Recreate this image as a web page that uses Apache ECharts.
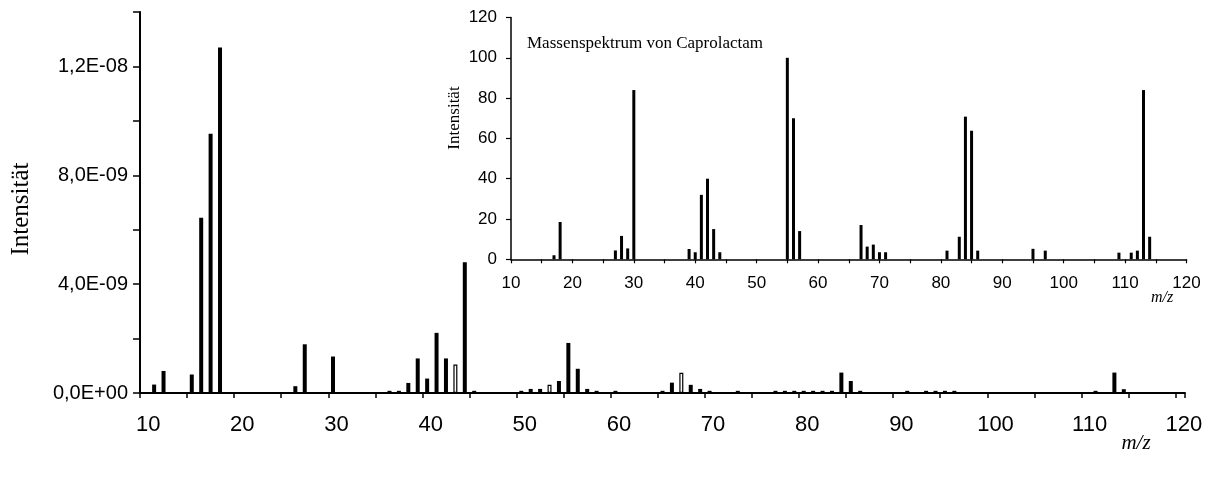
<!DOCTYPE html>
<html>
<head>
<meta charset="utf-8">
<script src="https://cdn.jsdelivr.net/npm/echarts@6/dist/echarts.min.js"></script>
<style>
  html, body { margin: 0; padding: 0; background: #fff; }
  #chart { width: 1215px; height: 478px; }
</style>
</head>
<body>
<div id="chart"></div>
<script>
// Gas-phase spectrum (absolute intensity) : m/z and intensity
const gasMz = [11, 12, 15, 16, 17, 18, 26, 27, 30, 36, 37, 38, 39, 40, 41, 42, 43, 44, 45,
  50, 51, 52, 53, 54, 55, 56, 57, 58, 60, 65, 66, 67, 68, 69, 70, 73, 77, 78, 79, 80, 81,
  82, 83, 84, 85, 86, 91, 93, 94, 95, 96, 111, 113, 114];
const gasIntensity = [3.1e-10, 8.1e-10, 6.8e-10, 6.44e-9, 9.53e-9, 1.27e-8, 2.5e-10, 1.79e-9,
  1.34e-9, 8e-11, 8e-11, 3.7e-10, 1.27e-9, 5.3e-10, 2.21e-9, 1.27e-9, 1.05e-9, 4.8e-9, 8e-11,
  8e-11, 1.5e-10, 1.5e-10, 3.0e-10, 4.4e-10, 1.84e-9, 8.9e-10, 1.5e-10, 8e-11, 8e-11,
  8e-11, 3.8e-10, 7.4e-10, 3.0e-10, 1.5e-10, 8e-11, 8e-11, 8e-11, 8e-11, 8e-11, 8e-11, 8e-11,
  8e-11, 8e-11, 7.5e-10, 4.4e-10, 8e-11, 8e-11, 8e-11, 8e-11, 8e-11, 8e-11, 8e-11, 7.5e-10, 1.4e-10];
// peaks drawn as outlined columns
const outlinedMz = [43, 53, 67];

// Reference spectrum of caprolactam (relative intensity, %)
const capMz = [17, 18, 27, 28, 29, 30, 39, 40, 41, 42, 43, 44, 55, 56, 57, 67, 68, 69, 70, 71,
  81, 83, 84, 85, 86, 95, 97, 109, 111, 112, 113, 114];
const capIntensity = [2, 18.5, 4.4, 11.6, 5.4, 84, 5.1, 3.5, 32, 40, 15, 3.5, 100, 70, 14,
  17, 6.3, 7.3, 3.5, 3.5, 4.3, 11.2, 70.8, 63.8, 4.3, 5.2, 4.3, 3.3, 3.3, 4.3, 84, 11.2];

// Axis labels
const mzFirst = 10, mzLast = 120;
const mainYLabels = ['0,0E+00', '4,0E-09', '8,0E-09', '1,2E-08'];
const yTitle = 'Intensität';
const xTitle = 'm/z';
const insetTitle = 'Massenspektrum von Caprolactam';

// category axis: one slot per integer m/z
const mzCategories = [];
for (let m = mzFirst; m <= mzLast; m++) mzCategories.push(String(m));

const gasData = mzCategories.map(() => '-');
gasMz.forEach((m, i) => {
  const v = gasIntensity[i];
  gasData[m - mzFirst] = outlinedMz.includes(m)
    ? { value: v, itemStyle: { color: '#fff', borderColor: '#000', borderWidth: 1.2 } }
    : v;
});
const capData = capMz.map((m, i) => [m, capIntensity[i]]);

const sans = 'Liberation Sans';
const serif = 'Liberation Serif';

const chart = echarts.init(document.getElementById('chart'), null, { renderer: 'canvas' });
chart.setOption({
  animation: false,
  backgroundColor: '#fff',
  grid: [
    { left: 140, right: 30, top: 12, bottom: 85, outerBoundsMode: 'none' },
    { left: 511, right: 28.5, top: 17.5, bottom: 218.7, outerBoundsMode: 'none' }
  ],
  xAxis: [
    {
      type: 'category', gridIndex: 0, data: mzCategories, boundaryGap: true,
      axisLine: { show: true, lineStyle: { color: '#000', width: 2 } },
      axisTick: { show: true, interval: (i) => i % 5 === 0, length: 5, lineStyle: { color: '#000', width: 1.5 } },
      axisLabel: { interval: (i) => i % 10 === 0, margin: 21, fontSize: 22, color: '#000', fontFamily: sans, padding: [0, 0, 0, 7] },
      splitLine: { show: false }
    },
    {
      type: 'value', gridIndex: 1, min: mzFirst, max: mzLast, interval: 5,
      axisLine: { show: true, onZero: false, lineStyle: { color: '#000', width: 1.5 } },
      axisTick: { show: true, length: 4, lineStyle: { color: '#000', width: 1.2 } },
      axisLabel: { margin: 16, fontSize: 17, color: '#000', fontFamily: sans,
        formatter: (v) => (v % 10 === 0 ? String(v) : '') },
      splitLine: { show: false }
    }
  ],
  yAxis: [
    {
      type: 'value', gridIndex: 0, min: 0, max: 1.4e-8, interval: 2e-9,
      axisLine: { show: true, lineStyle: { color: '#000', width: 2 } },
      axisTick: { show: true, length: 7, lineStyle: { color: '#000', width: 1.5 } },
      axisLabel: { margin: 12, fontSize: 20, color: '#000', fontFamily: sans,
        formatter: (v) => {
          const k = Math.round(v / 2e-9);
          return k % 2 === 0 ? (mainYLabels[k / 2] || '') : '';
        } },
      splitLine: { show: false }
    },
    {
      type: 'value', gridIndex: 1, min: 0, max: 120, interval: 20,
      axisLine: { show: true, lineStyle: { color: '#000', width: 1.5 } },
      axisTick: { show: true, length: 5, lineStyle: { color: '#000', width: 1.2 } },
      axisLabel: { margin: 14, fontSize: 17, color: '#000', fontFamily: sans, padding: [8, 0, 0, 0] },
      splitLine: { show: false }
    }
  ],
  series: [
    {
      type: 'bar', xAxisIndex: 0, yAxisIndex: 0, data: gasData,
      barWidth: 4, itemStyle: { color: '#000' }, silent: true
    },
    {
      type: 'bar', xAxisIndex: 1, yAxisIndex: 1, data: capData,
      barWidth: 3, itemStyle: { color: '#000' }, silent: true
    }
  ],
  graphic: [
    { type: 'text', x: 21, y: 209, rotation: Math.PI / 2,
      style: { text: yTitle, font: '25px "' + serif + '"', fill: '#000', align: 'center', verticalAlign: 'middle' } },
    { type: 'text', x: 1136, y: 443,
      style: { text: xTitle, font: 'italic 21px "' + serif + '"', fill: '#000', align: 'center', verticalAlign: 'middle' } },
    { type: 'text', x: 455, y: 118, rotation: Math.PI / 2,
      style: { text: yTitle, font: '17px "' + serif + '"', fill: '#000', align: 'center', verticalAlign: 'middle' } },
    { type: 'text', x: 1162, y: 298,
      style: { text: xTitle, font: 'italic 16px "' + serif + '"', fill: '#000', align: 'center', verticalAlign: 'middle' } },
    { type: 'text', x: 527, y: 44,
      style: { text: insetTitle, font: '17px "' + serif + '"', fill: '#000', align: 'left', verticalAlign: 'middle' } }
  ]
});
</script>
</body>
</html>
